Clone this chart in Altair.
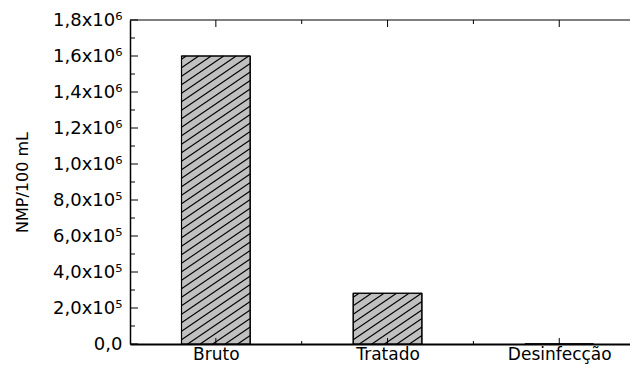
import altair as alt
import pandas as pd

# ---- data ----
categories = ["Bruto", "Tratado", "Desinfecção"]
values = [1600000, 282000, 0]

y_tick_values = [0, 200000, 400000, 600000, 800000, 1000000, 1200000, 1400000, 1600000, 1800000]
y_tick_labels = ["0,0", "2,0x10⁵", "4,0x10⁵", "6,0x10⁵", "8,0x10⁵",
                 "1,0x10⁶", "1,2x10⁶", "1,4x10⁶", "1,6x10⁶", "1,8x10⁶"]
y_minor_values = [100000, 300000, 500000, 700000, 900000, 1100000, 1300000, 1500000, 1700000]
x_minor_values = [1.5, 2.5]

# ---- geometry / style ----
W, H = 500, 324
X_DOM = [0.5, 0.5 + W / 171.7]   # right frame falls just outside the picture in the reference
Y_DOM = [0, 1800000]
BAR_HALF = 0.2
FONT = "DejaVu Sans"

pos = list(range(1, len(categories) + 1))
bars = pd.DataFrame({"cat": categories, "pos": pos, "value": values})
bars["x0"] = bars["pos"] - BAR_HALF
bars["x1"] = bars["pos"] + BAR_HALF

# hatch segments ("////") clipped to each bar, built from the bar values
kx = W / (X_DOM[1] - X_DOM[0])
ky = H / (Y_DOM[1] - Y_DOM[0])
slope, spacing = 0.68, 8.5
seg = []
for _, r in bars.iterrows():
    w = (r.x1 - r.x0) * kx
    h = r.value * ky
    if h <= 1:
        continue
    c = -slope * w
    while c < h:
        u0 = max(0.0, -c / slope)
        u1 = min(w, (h - c) / slope)
        if u1 > u0:
            seg.append({
                "hx": r.x0 + u0 / kx, "hx2": r.x0 + u1 / kx,
                "hy": (slope * u0 + c) / ky, "hy2": (slope * u1 + c) / ky,
            })
        c += spacing
hatch = pd.DataFrame(seg)

xs = alt.Scale(domain=X_DOM, nice=False, zero=False)
ys = alt.Scale(domain=Y_DOM, nice=False)

label_expr = "[" + ",".join("'%s'" % s for s in y_tick_labels) + "][round(datum.value/200000)]"
cat_expr = "[" + ",".join("'%s'" % s for s in categories) + "][round(datum.value)-1]"

X_AX = alt.Axis(
    values=pos, labelExpr=cat_expr, ticks=False, grid=False,
    domain=True, domainColor="#000000", domainWidth=2,
    labelFont=FONT, labelFontSize=17, labelColor="#000000", labelPadding=2,
    labelOverlap=False, labelBaseline="top", title=None)
Y_AX = alt.Axis(
    values=y_tick_values, labelExpr=label_expr, ticks=False, grid=False,
    domain=True, domainColor="#000000", domainWidth=1.5,
    labelFont=FONT, labelFontSize=18, labelColor="#000000",
    labelPadding=8, labelOverlap=False, labelFlush=False,
    title="NMP/100 mL", titleFont=FONT, titleFontSize=16,
    titleFontWeight="normal", titleColor="#000000", titlePadding=22)


def X(f):
    return alt.X(f, scale=xs, axis=X_AX)


def Y(f):
    return alt.Y(f, scale=ys, axis=Y_AX)


bar_layer = alt.Chart(bars).mark_bar(
    fill="#c0c0c0", stroke="#000000", strokeWidth=1
).encode(x=X("x0:Q"), x2="x1:Q", y=Y("value:Q"), y2=alt.datum(0))

hatch_layer = alt.Chart(hatch).mark_rule(color="#000000", strokeWidth=1.1).encode(
    x=X("hx:Q"), x2="hx2:Q", y=Y("hy:Q"), y2="hy2:Q",
)

bar_outline = alt.Chart(bars).mark_bar(
    fill=None, stroke="#000000", strokeWidth=1.2
).encode(x=X("x0:Q"), x2="x1:Q", y=Y("value:Q"), y2=alt.datum(0))

ymaj = pd.DataFrame({"v": y_tick_values})
ymin = pd.DataFrame({"v": y_minor_values})
xmaj = pd.DataFrame({"v": pos})
xmin = pd.DataFrame({"v": x_minor_values})

top_line = alt.Chart(pd.DataFrame({"v": [Y_DOM[1]]})).mark_rule(
    color="#000000", strokeWidth=1.2
).encode(y=Y("v:Q"), x=alt.value(0), x2=alt.value(W))

tick_style = dict(color="#000000", strokeWidth=1)
ticks = [
    alt.Chart(ymaj).mark_rule(**tick_style).encode(
        y=Y("v:Q"), x=alt.value(0), x2=alt.value(8)),
    alt.Chart(ymin).mark_rule(**tick_style).encode(
        y=Y("v:Q"), x=alt.value(0), x2=alt.value(5)),
    alt.Chart(xmaj).mark_rule(**tick_style).encode(
        x=X("v:Q"), y=alt.value(H), y2=alt.value(H - 6)),
    alt.Chart(xmin).mark_rule(**tick_style).encode(
        x=X("v:Q"), y=alt.value(H), y2=alt.value(H - 3)),
    alt.Chart(xmaj).mark_rule(**tick_style).encode(
        x=X("v:Q"), y=alt.value(0), y2=alt.value(7)),
    alt.Chart(xmin).mark_rule(**tick_style).encode(
        x=X("v:Q"), y=alt.value(0), y2=alt.value(4)),
]

chart = alt.layer(bar_layer, hatch_layer, bar_outline, top_line, *ticks).properties(
    width=W, height=H,
    autosize=alt.AutoSizeParams(type="none"),
    padding={"left": 122, "top": 12, "right": 0, "bottom": 22},
    background="#ffffff",
).configure_view(strokeWidth=0)

chart.save("out.html", embed_options={"renderer": "svg", "actions": False})
